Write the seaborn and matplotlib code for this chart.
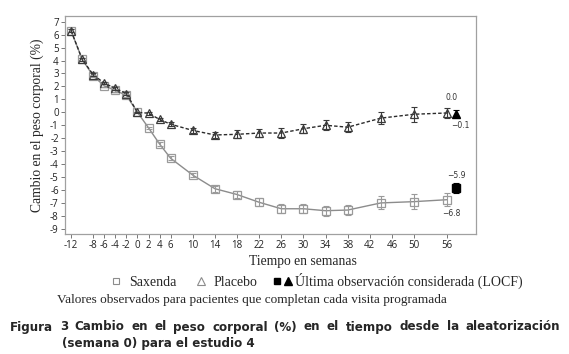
import numpy as np
import pandas as pd
import matplotlib
matplotlib.use("Agg")
import matplotlib.pyplot as plt
import seaborn as sns
from matplotlib.lines import Line2D
from matplotlib.legend_handler import HandlerTuple

# ---- data ----
weeks = [-12, -10, -8, -6, -4, -2, 0, 2, 4, 6, 10, 14, 18, 22, 26, 30, 34, 38, 44, 50, 56]
saxenda = [6.3, 4.1, 2.8, 2.05, 1.7, 1.3, 0.0, -1.2, -2.45, -3.55, -4.85, -5.9, -6.35, -6.95,
           -7.45, -7.45, -7.6, -7.55, -7.0, -6.9, -6.75]
saxenda_err = [0.1, 0.1, 0.1, 0.1, 0.1, 0.1, 0.05, 0.1, 0.12, 0.15, 0.18, 0.22, 0.28, 0.3,
               0.35, 0.35, 0.4, 0.4, 0.5, 0.58, 0.52]
placebo = [6.3, 4.1, 2.9, 2.25, 1.85, 1.45, 0.0, -0.07, -0.55, -0.92, -1.4, -1.75, -1.7, -1.6,
           -1.6, -1.27, -1.0, -1.15, -0.45, -0.15, -0.05]
placebo_err = [0.1, 0.1, 0.1, 0.1, 0.1, 0.1, 0.05, 0.1, 0.12, 0.14, 0.18, 0.22, 0.3, 0.3,
               0.4, 0.35, 0.4, 0.4, 0.45, 0.58, 0.42]
locf_week = [57.6]
locf_saxenda = [-5.85]
locf_saxenda_err = [0.38]
locf_placebo = [-0.1]
locf_placebo_err = [0.3]
xticks = [-12, -8, -6, -4, -2, 0, 2, 4, 6, 10, 14, 18, 22, 26, 30, 34, 38, 42, 46, 50, 56]
yticks = list(range(-9, 8))
annot_text = ["0.0", "\u22120.1", "\u22125.9", "\u22126.8"]
annot_x = [56.7, 58.3, 57.7, 56.7]
annot_y = [1.17, -1.0, -4.9, -7.78]

df = pd.DataFrame({
    "week": weeks * 2,
    "value": saxenda + placebo,
    "group": ["Saxenda"] * len(weeks) + ["Placebo"] * len(weeks),
})

sns.set_style("white")
plt.rcParams["font.family"] = ["DejaVu Sans"]

fig = plt.figure(figsize=(5.69, 3.54), dpi=100)
ax = fig.add_axes([65 / 569, 1 - 234 / 354, (476 - 65) / 569, (234 - 16) / 354])

sax_col = "#8c8c8c"
plc_col = "#2b2b2b"

sns.lineplot(data=df[df.group == "Saxenda"], x="week", y="value", ax=ax, color=sax_col,
             lw=1.0, marker="s", markersize=5.2, markerfacecolor="none",
             markeredgecolor="#9a9a9a", markeredgewidth=0.9, legend=False, errorbar=None)
sns.lineplot(data=df[df.group == "Placebo"], x="week", y="value", ax=ax, color=plc_col,
             lw=1.0, linestyle=(0, (2.5, 1.5)), marker="^", markersize=5.6,
             markerfacecolor="none", markeredgecolor="#3a3a3a", markeredgewidth=0.9,
             legend=False, errorbar=None)

ax.errorbar(weeks, saxenda, yerr=saxenda_err, fmt="none", ecolor="#9a9a9a", elinewidth=0.8,
            capsize=2.2, capthick=0.8)
ax.errorbar(weeks, placebo, yerr=placebo_err, fmt="none", ecolor="#3a3a3a", elinewidth=0.8,
            capsize=2.2, capthick=0.8)
ax.errorbar(locf_week, locf_saxenda, yerr=locf_saxenda_err, fmt="s", color="black",
            ms=5.2, elinewidth=0.8, capsize=2.2, capthick=0.8)
ax.errorbar(locf_week, locf_placebo, yerr=locf_placebo_err, fmt="^", color="black",
            ms=5.6, elinewidth=0.8, capsize=2.2, capthick=0.8)

for t, x, y in zip(annot_text, annot_x, annot_y):
    ax.text(x, y, t, fontsize=5.5, ha="center", va="center", color="#333333")

ax.set_xlim(-13.1, 61.2)
ax.set_ylim(-9.4, 7.44)
ax.set_xticks(xticks)
ax.set_xticklabels([str(v) for v in xticks], family="Open Sans", fontsize=7, color="#222222")
ax.set_yticks(yticks)
ax.set_yticklabels([str(v) for v in yticks], family="Open Sans", fontsize=7, color="#222222")
ax.tick_params(axis="both", which="major", length=3, width=0.7, color="#777777", pad=1.5,
               bottom=True, left=True)
for s in ax.spines.values():
    s.set_color("#a0a0a0")
    s.set_linewidth(0.9)
ax.set_xlabel("")
ax.set_ylabel("")

serif = "Liberation Serif"
fig.text(37 / 569, 1 - 125 / 354, "Cambio en el peso corporal (%)", rotation=90,
         family=serif, fontsize=9.8, ha="center", va="center")
fig.text(303 / 569, 1 - 262 / 354, "Tiempo en semanas", family=serif, fontsize=9.8,
         ha="center", va="center")

h_sax = Line2D([], [], marker="s", ls="", mfc="none", mec="#8c8c8c", ms=5, mew=0.8)
h_plc = Line2D([], [], marker="^", ls="", mfc="none", mec="#8c8c8c", ms=5.5, mew=0.8)
h_sq = Line2D([], [], marker="s", ls="", color="black", ms=5)
h_tr = Line2D([], [], marker="^", ls="", color="black", ms=5.5)
fig.legend(handles=[h_sax, h_plc, (h_sq, h_tr)],
           labels=["Saxenda", "Placebo", "Última observación considerada (LOCF)"],
           handler_map={tuple: HandlerTuple(ndivide=None, pad=0.6)},
           ncol=3, frameon=False, loc="center", bbox_to_anchor=(316 / 569, 1 - 281 / 354),
           prop={"family": serif, "size": 10}, handlelength=1.0, handletextpad=0.4,
           columnspacing=1.3, borderaxespad=0, borderpad=0)

fig.text(57 / 569, 1 - 300 / 354,
         "Valores observados para pacientes que completan cada visita programada",
         family=serif, fontsize=9.5, ha="left", va="center")

# justified bold caption
line1 = "Figura 3 Cambio en el peso corporal (%) en el tiempo desde la aleatorización"
line2 = "(semana 0) para el estudio 4"
cap_kw = dict(family="DejaVu Sans", fontweight="bold", fontsize=8.6, va="center", ha="left")
fig.canvas.draw()
renderer = fig.canvas.get_renderer()
words = line1.split()
tx = [fig.text(0, 1 - 327 / 354, w, **cap_kw) for w in words]
widths = [t.get_window_extent(renderer).width for t in tx]
x0, x1 = 10, 560
gap = (x1 - x0 - sum(widths)) / (len(words) - 1)
x = x0
for t, w in zip(tx, widths):
    t.set_x(x / 569)
    x += w + gap
fig.text(62 / 569, 1 - 343 / 354, line2, **cap_kw)

fig.savefig("out.png", dpi=100)
